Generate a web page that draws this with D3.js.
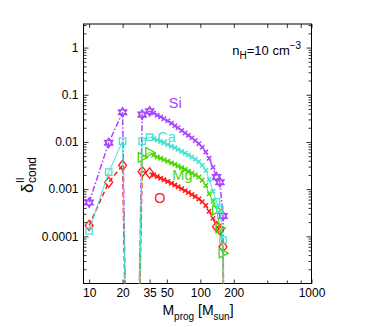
<!DOCTYPE html>
<html>
<head>
<meta charset="utf-8">
<script src="https://cdn.jsdelivr.net/npm/d3@7"></script>
<style>
  body { margin: 0; background: #fff; }
  text { font-family: "Liberation Sans", Arial, sans-serif; }
</style>
</head>
<body>
<svg id="chart"></svg>
<script>
// progenitor masses (common grid); 1e-8 = dropped below the axis
const masses = [10, 15, 20, 22, 27, 30, 35, 38, 41, 44, 47, 51, 55, 59, 63, 68, 73, 78, 84, 90, 97, 104, 112, 120, 130, 140, 150, 160, 165]
const siVals = [5.2e-4, 9.6e-3, 0.0426, 1e-8, 1e-8, 0.038, 0.0446, 0.041, 0.037, 0.034, 0.031, 0.028, 0.025, 0.022, 0.020, 0.0175, 0.0155, 0.0138, 0.0122, 0.0107, 0.0092, 0.0077, 0.0061, 0.0045, 0.0029, 0.0018, 0.0014, 2.7e-4, 1e-8]
const caVals = [1.3e-4, 2.3e-3, 0.0104, 1e-8, 1e-8, 0.0104, 0.0126, 0.0118, 0.011, 0.0102, 0.0095, 0.0088, 0.0081, 0.0075, 0.0069, 0.0063, 0.0058, 0.0053, 0.0048, 0.0043, 0.0038, 0.0032, 0.0025, 0.0016, 9e-4, 5.4e-4, 3.7e-4, 8.3e-5, 1e-8]
const mgVals = [null, null, null, null, 1e-8, 4.7e-3, 6.0e-3, 5.2e-3, 4.8e-3, 4.5e-3, 4.2e-3, 3.9e-3, 3.6e-3, 3.35e-3, 3.1e-3, 2.85e-3, 2.6e-3, 2.4e-3, 2.2e-3, 2.0e-3, 1.8e-3, 1.55e-3, 1.2e-3, 8e-4, 5.5e-4, 3.6e-4, 1.5e-4, 4.4e-5, 1e-8]
const oVals = [1.7e-4, 1.4e-3, 3.2e-3, 1e-8, 1e-8, 2.35e-3, 2.2e-3, 2.0e-3, 1.85e-3, 1.7e-3, 1.58e-3, 1.45e-3, 1.33e-3, 1.22e-3, 1.12e-3, 1.02e-3, 9.3e-4, 8.5e-4, 7.7e-4, 7.0e-4, 6.2e-4, 5.4e-4, 4.5e-4, 3.4e-4, 2.4e-4, 1.6e-4, 1.4e-4, 6e-5, 1e-8]
const bigMarkerMasses = [10, 15, 20, 30, 35, 140, 150, 160]

const xTickVals = [10, 20, 35, 50, 100, 200, 1000]
const xMinorVals = [400, 600, 800]
const yTickVals = [1, 0.1, 0.01, 0.001, 0.0001]
const yTickLabels = ["1", "0.1", "0.01", "0.001", "0.0001"]

const W = 382, H = 327
let svg = d3.select("#chart").attr("width", W).attr("height", H)
svg.append("rect").attr("width", W).attr("height", H).attr("fill", "#fff")

let pLeft = 83.5, pRight = 311.5, pTop = 24, pBottom = 283.5

let x = d3.scaleLog().domain([8.9, 1000]).range([pLeft, pRight])
let y = d3.scaleLog().domain([1e-5, Math.pow(10, 0.5)]).range([pBottom, pTop])

function translate(a, b) { return "translate(" + a + "," + b + ")" }

// minor log ticks on y
let yMinor = []
for (let e = -5; e <= 0; e++) {
    for (let k = 2; k <= 9; k++) {
        let v = k * Math.pow(10, e)
        if (v < Math.pow(10, 0.5)) yMinor.push(v)
    }
}

let axisStyle = g => {
    g.select(".domain").remove()
    g.selectAll("line").attr("stroke", "#000").attr("stroke-width", 0.8)
    g.selectAll("text").attr("font-size", 12).attr("fill", "#000")
        .attr("font-family", "Liberation Sans, Arial, sans-serif")
}

// bottom / top
svg.append("g").attr("transform", translate(0, pBottom))
    .call(d3.axisBottom(x).tickValues(xTickVals).tickFormat(d3.format("d")).tickSizeInner(-4).tickSizeOuter(0).tickPadding(5))
    .call(axisStyle)
svg.append("g").attr("transform", translate(0, pBottom))
    .call(d3.axisBottom(x).tickValues(xMinorVals).tickFormat("").tickSizeInner(-3).tickSizeOuter(0))
    .call(axisStyle)
svg.append("g").attr("transform", translate(0, pTop))
    .call(d3.axisTop(x).tickValues(xTickVals.concat(xMinorVals)).tickFormat("").tickSizeInner(-4).tickSizeOuter(0))
    .call(axisStyle)

// left / right
svg.append("g").attr("transform", translate(pLeft, 0))
    .call(d3.axisLeft(y).tickValues(yTickVals).tickFormat((d, i) => yTickLabels[i]).tickSizeInner(-5).tickSizeOuter(0).tickPadding(5))
    .call(axisStyle)
svg.append("g").attr("transform", translate(pLeft, 0))
    .call(d3.axisLeft(y).tickValues(yMinor).tickFormat("").tickSizeInner(-3).tickSizeOuter(0))
    .call(axisStyle)
svg.append("g").attr("transform", translate(pRight, 0))
    .call(d3.axisRight(y).tickValues(yTickVals).tickFormat("").tickSizeInner(-5).tickSizeOuter(0))
    .call(axisStyle)
svg.append("g").attr("transform", translate(pRight, 0))
    .call(d3.axisRight(y).tickValues(yMinor).tickFormat("").tickSizeInner(-3).tickSizeOuter(0))
    .call(axisStyle)

svg.append("rect")
    .attr("x", pLeft).attr("y", pTop)
    .attr("width", pRight - pLeft).attr("height", pBottom - pTop)
    .attr("fill", "none").attr("stroke", "#000").attr("stroke-width", 1)

svg.append("clipPath").attr("id", "plotclip")
    .append("rect").attr("x", pLeft).attr("y", pTop).attr("width", pRight - pLeft).attr("height", pBottom - pTop)

function markerPath(type, r) {
    if (type == "hexagram") {
        let p = a => [r * Math.cos(a * Math.PI / 180), r * Math.sin(a * Math.PI / 180)]
        let t1 = [-90, 30, 150].map(p), t2 = [90, 210, 330].map(p)
        return "M" + t1.join("L") + "Z" + "M" + t2.join("L") + "Z"
    }
    if (type == "square") return "M" + (-r) + "," + (-r) + "h" + 2 * r + "v" + 2 * r + "h" + (-2 * r) + "Z"
    if (type == "diamond") return "M0," + (-r * 1.3) + "L" + r + ",0L0," + (r * 1.3) + "L" + (-r) + ",0Z"
    if (type == "triangle") return "M" + (-r * 0.8) + "," + (-r) + "L" + (r * 1.1) + ",0L" + (-r * 0.8) + "," + r + "Z"
    return "M" + (-r) + "," + (-r) + "L" + r + "," + r + "M" + (-r) + "," + r + "L" + r + "," + (-r)
}

let series = [
    { name: "Si", vals: siVals, color: "#a844ff", dash: "6,2,1.5,2", width: 1.5, marker: "hexagram", r: 4.8 },
    { name: "O", vals: oVals, color: "#ff1a1a", dash: "5,3", width: 1.5, marker: "diamond", r: 4 },
    { name: "Mg", vals: mgVals, color: "#48d800", dash: null, width: 1, marker: "triangle", r: 4.8 },
    { name: "Ca", vals: caVals, color: "#48e2d2", dash: null, width: 1, marker: "square", r: 3.2 }
]

let plot = svg.append("g").attr("clip-path", "url(#plotclip)")
let line = d3.line().defined(d => d.v != null).x(d => x(d.m)).y(d => y(d.v))

series.forEach(s => {
    let pts = masses.map((m, i) => ({ m: m, v: s.vals[i] }))
    plot.append("path")
        .attr("d", line(pts))
        .attr("fill", "none")
        .attr("stroke", s.color)
        .attr("stroke-width", s.width)
        .attr("stroke-dasharray", s.dash)
    let shown = pts.filter(d => d.v != null && d.v > 1e-6)
    plot.selectAll(null).data(shown).enter().append("path")
        .attr("transform", d => translate(x(d.m), y(d.v)))
        .attr("d", d => bigMarkerMasses.includes(d.m) ? markerPath(s.marker, s.r) : markerPath("cross", 2.2))
        .attr("fill", "none")
        .attr("stroke", s.color)
        .attr("stroke-width", d => bigMarkerMasses.includes(d.m) ? 1.3 : 1.5)
})

// series labels
let labels = [
    { text: "Si", m: 52, v: 0.052, color: "#a844ff" },
    { text: "Ca", m: 41, v: 0.0101, color: "#48e2d2" },
    { text: "Mg", m: 56, v: 0.0016, color: "#48d800" },
    { text: "O", m: 38.5, v: 5.1e-4, color: "#ff1a1a" }
]
svg.selectAll(null).data(labels).enter().append("text")
    .attr("x", d => x(d.m)).attr("y", d => y(d.v))
    .attr("font-size", 14.5)
    .attr("fill", d => d.color)
    .text(d => d.text)

// density annotation
let ann = svg.append("text").attr("x", x(194)).attr("y", y(0.7)).attr("font-size", 13).attr("fill", "#000")
ann.append("tspan").text("n")
ann.append("tspan").attr("font-size", 10).attr("dy", 4).text("H")
ann.append("tspan").attr("dy", -4).text("=10 cm")
ann.append("tspan").attr("font-size", 10).attr("dy", -6).text("\u22123")

// x label
let xl = svg.append("text").attr("x", 198).attr("y", 315).attr("text-anchor", "middle").attr("font-size", 14).attr("fill", "#000")
xl.append("tspan").text("M")
xl.append("tspan").attr("font-size", 10).attr("dy", 5).text("prog")
xl.append("tspan").attr("dy", -5).text(" [M")
xl.append("tspan").attr("font-size", 10).attr("dy", 5).text("sun")
xl.append("tspan").attr("dy", -5).text("]")

// y label: delta with stacked super/subscript
let yl = svg.append("g").attr("transform", translate(33, 193) + " rotate(-90)")
yl.append("text").attr("x", 0).attr("y", 0).attr("font-size", 17).text("\u03b4")
yl.append("text").attr("x", 10).attr("y", -9).attr("font-size", 10).text("II")
yl.append("text").attr("x", 10).attr("y", 3).attr("font-size", 12).text("cond")
</script>
</body>
</html>
